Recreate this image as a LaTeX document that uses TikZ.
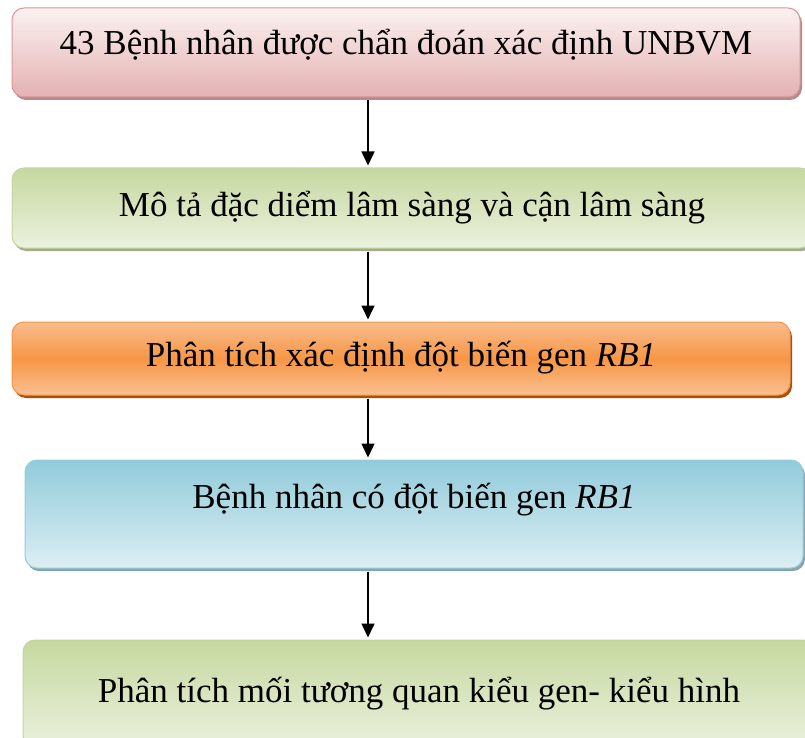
\documentclass[tikz,border=0pt]{standalone}
\usepackage{fontspec}
\setmainfont{Liberation Serif}
\usetikzlibrary{shadows,arrows.meta}

\begin{document}
\begin{tikzpicture}[x=1pt,y=-1pt]
\tikzstyle{stage}=[rectangle, rounded corners=12pt, inner sep=0pt, line width=1pt,
  text height=24pt, text depth=8pt, font=\fontsize{35}{40}\selectfont]
\tikzstyle{pinkbox}=[stage, draw=pinkline, top color=pinktop, bottom color=pinkbot,
  drop shadow={shadow xshift=2pt, shadow yshift=-3pt, fill=pinkshadow, opacity=1}]
\tikzstyle{greenbox}=[stage, draw=greenline, top color=greentop, bottom color=greenbot,
  drop shadow={shadow xshift=2pt, shadow yshift=-3pt, fill=greenshadow, opacity=1}]
\tikzstyle{orangebox}=[stage, draw=orangeline, top color=orangetop, bottom color=orangebot, middle color=orangemid,
  drop shadow={shadow xshift=2pt, shadow yshift=-3pt, fill=orangeshadow, opacity=1}]
\tikzstyle{bluebox}=[stage, draw=blueline, top color=bluetop, bottom color=bluebot,
  drop shadow={shadow xshift=2pt, shadow yshift=-3pt, fill=blueshadow, opacity=1}]
\tikzstyle{flow}=[line width=1.5pt, -{Triangle[width=13pt,length=14pt]}, shorten <=3pt, shorten >=2pt]

\definecolor{pinkline}{HTML}{D99694}
\definecolor{pinktop}{HTML}{FBF1F1}
\definecolor{pinkbot}{HTML}{E4B1B1}
\definecolor{pinkshadow}{HTML}{B08C8C}
\definecolor{greenline}{HTML}{C3D69B}
\definecolor{greentop}{HTML}{C6D8A0}
\definecolor{greenbot}{HTML}{EBF1DE}
\definecolor{greenshadow}{HTML}{A3AC92}
\definecolor{orangeline}{HTML}{F79646}
\definecolor{orangetop}{HTML}{F9BD8D}
\definecolor{orangemid}{HTML}{F79646}
\definecolor{orangebot}{HTML}{FAC090}
\definecolor{orangeshadow}{HTML}{A8500A}
\definecolor{blueline}{HTML}{93CDDD}
\definecolor{bluetop}{HTML}{92CBDB}
\definecolor{bluebot}{HTML}{DDEEF3}
\definecolor{blueshadow}{HTML}{8DA3AC}

\useasboundingbox (0,0) rectangle (805,738);

\node[pinkbox, minimum width=788pt, minimum height=89pt, text depth=19pt] (diag) at (406,52.5)
  {43 Bệnh nhân được chẩn đoán xác định UNBVM};
\node[greenbox, minimum width=800pt, minimum height=80pt] (clin) at (412,208)
  {Mô tả đặc diểm lâm sàng và cận lâm sàng};
\node[orangebox, minimum width=778pt, minimum height=73pt] (anal) at (401,358.5)
  {Phân tích xác định đột biến gen \textit{RB1}};
\node[bluebox, minimum width=778pt, minimum height=108pt, text depth=36pt] (mut) at (414,514)
  {Bệnh nhân có đột biến gen \textit{RB1}};
\node[greenbox, minimum width=792pt, minimum height=108pt] (corr) at (419,694)
  {Phân tích mối tương quan kiểu gen- kiểu hình};

\coordinate (axis) at (368,0);
\draw[flow] (diag.south -| axis) -- (clin.north -| axis);
\draw[flow] (clin.south -| axis) -- (anal.north -| axis);
\draw[flow] (anal.south -| axis) -- (mut.north -| axis);
\draw[flow] (mut.south -| axis) -- (corr.north -| axis);
\end{tikzpicture}
\end{document}
